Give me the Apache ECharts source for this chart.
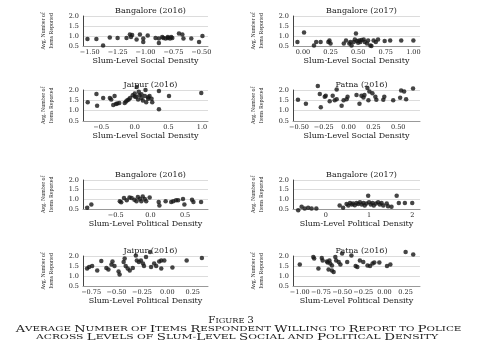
<!DOCTYPE html>
<html>
<head>
<meta charset="utf-8">
<script src="https://cdn.jsdelivr.net/npm/echarts@6/dist/echarts.min.js"></script>
<style>
  html, body { margin: 0; padding: 0; background: #fff; }
  #main { width: 499px; height: 353px; }
</style>
</head>
<body>
<div id="main"></div>
<script>
// values, [density, avg items reported]
var bangalore2016Social = [[-1.52,0.85],[-1.44,0.85],[-1.38,0.53],[-1.32,0.92],[-1.25,0.9],[-1.17,0.9],[-1.14,1.08],[-1.12,1.05],[-1.13,0.95],[-1.08,0.82],[-1.05,1.07],[-1.02,0.87],[-1.02,0.7],[-0.98,1.03],[-0.91,0.9],[-0.88,0.65],[-0.88,0.87],[-0.85,0.95],[-0.84,0.9],[-0.82,0.87],[-0.8,0.95],[-0.8,0.9],[-0.78,0.87],[-0.77,0.95],[-0.76,0.9],[-0.7,1.12],[-0.67,1.08],[-0.66,0.87],[-0.59,0.87],[-0.52,0.7],[-0.49,1.0]];
var bangalore2017Social = [[-0.05,0.7],[0.01,1.17],[0.1,0.53],[0.12,0.7],[0.16,0.7],[0.23,0.7],[0.24,0.78],[0.25,0.62],[0.37,0.62],[0.39,0.78],[0.42,0.62],[0.43,0.7],[0.44,0.53],[0.46,0.7],[0.48,1.12],[0.47,0.82],[0.49,0.75],[0.5,0.66],[0.51,0.78],[0.52,0.7],[0.53,0.8],[0.55,0.82],[0.56,0.7],[0.58,0.62],[0.59,0.78],[0.61,0.53],[0.62,0.5],[0.64,0.78],[0.66,0.7],[0.68,0.82],[0.74,0.75],[0.79,0.78],[0.89,0.78],[1.0,0.78]];
var jaipurSocial = [[-0.7,1.41],[-0.57,1.81],[-0.56,1.24],[-0.47,1.61],[-0.37,1.61],[-0.35,1.54],[-0.3,1.71],[-0.32,1.27],[-0.28,1.32],[-0.26,1.35],[-0.23,1.37],[-0.15,1.37],[-0.13,1.44],[-0.11,1.5],[-0.09,1.54],[-0.07,1.61],[-0.03,1.75],[0.0,1.83],[0.0,1.68],[0.02,1.66],[0.03,2.15],[0.05,1.54],[0.07,1.75],[0.1,1.61],[0.1,1.8],[0.06,1.92],[0.12,1.49],[0.15,1.71],[0.17,1.41],[0.2,1.58],[0.2,1.65],[0.22,1.71],[0.16,2.0],[0.25,1.58],[0.26,1.41],[0.36,1.95],[0.36,1.07],[0.51,1.71],[0.99,1.86]];
var patnaSocial = [[-0.51,1.53],[-0.43,1.33],[-0.31,2.19],[-0.29,1.81],[-0.28,1.16],[-0.24,1.67],[-0.23,1.72],[-0.19,1.45],[-0.16,1.72],[-0.14,1.5],[-0.12,1.55],[-0.12,2.02],[-0.07,1.24],[-0.05,1.5],[-0.02,1.55],[-0.01,1.67],[0.08,1.76],[0.11,1.33],[0.13,1.72],[0.15,1.64],[0.16,1.76],[0.19,2.1],[0.2,1.5],[0.21,1.93],[0.24,1.84],[0.27,1.67],[0.28,1.53],[0.35,1.53],[0.36,1.67],[0.45,1.5],[0.52,1.62],[0.53,1.98],[0.56,1.93],[0.58,1.55],[0.65,2.07]];
var bangalore2016Political = [[-0.91,0.56],[-0.85,0.73],[-0.44,0.9],[-0.42,0.85],[-0.38,1.07],[-0.34,0.95],[-0.3,1.1],[-0.27,1.07],[-0.23,0.98],[-0.2,0.9],[-0.18,1.12],[-0.15,1.02],[-0.13,0.9],[-0.11,1.15],[-0.08,1.02],[-0.06,0.9],[-0.01,1.1],[0.12,0.86],[0.13,0.68],[0.22,0.9],[0.3,0.86],[0.33,0.9],[0.37,0.95],[0.4,0.95],[0.47,1.02],[0.49,0.73],[0.6,0.98],[0.62,0.86],[0.73,0.86]];
var bangalore2017Political = [[-0.64,0.44],[-0.56,0.61],[-0.49,0.53],[-0.41,0.56],[-0.33,0.53],[-0.22,0.53],[0.32,0.68],[0.4,0.56],[0.48,0.76],[0.52,0.68],[0.56,0.81],[0.6,0.73],[0.63,0.78],[0.67,0.69],[0.71,0.81],[0.75,0.76],[0.79,0.85],[0.83,0.73],[0.87,0.81],[0.9,0.68],[0.94,0.78],[0.98,1.19],[1.0,0.85],[1.04,0.73],[1.08,0.81],[1.11,0.68],[1.16,0.78],[1.21,0.85],[1.25,0.73],[1.29,0.81],[1.33,0.68],[1.41,0.78],[1.44,0.64],[1.52,0.61],[1.64,1.19],[1.69,0.81],[1.83,0.81],[2.0,0.81]];
var jaipurPolitical = [[-0.79,1.37],[-0.77,1.45],[-0.74,1.5],[-0.69,1.28],[-0.65,1.75],[-0.6,1.4],[-0.58,1.33],[-0.55,1.57],[-0.54,1.73],[-0.52,1.5],[-0.48,1.23],[-0.47,1.08],[-0.43,1.7],[-0.42,1.87],[-0.41,1.5],[-0.39,1.37],[-0.37,1.28],[-0.34,1.4],[-0.31,2.03],[-0.3,1.78],[-0.28,1.7],[-0.26,1.78],[-0.24,1.62],[-0.23,1.5],[-0.21,1.95],[-0.17,2.2],[-0.16,1.45],[-0.13,1.62],[-0.11,1.5],[-0.08,1.73],[-0.06,1.78],[-0.03,1.78],[-0.06,1.37],[0.05,1.42],[0.19,1.78],[0.34,1.9]];
var patnaPolitical = [[-1.0,1.57],[-0.84,1.95],[-0.83,1.87],[-0.78,1.37],[-0.74,1.9],[-0.73,1.78],[-0.68,1.73],[-0.67,1.67],[-0.65,1.78],[-0.66,1.33],[-0.62,1.28],[-0.6,1.2],[-0.64,1.62],[-0.62,1.53],[-0.58,1.95],[-0.57,1.78],[-0.54,1.7],[-0.52,1.57],[-0.5,2.12],[-0.44,1.7],[-0.39,2.03],[-0.34,1.5],[-0.32,1.45],[-0.29,1.78],[-0.25,1.7],[-0.2,1.53],[-0.17,1.5],[-0.14,1.62],[-0.12,1.67],[-0.06,1.67],[0.03,1.5],[0.07,1.57],[0.25,2.2],[0.34,2.07]];

var panelTitles = ["Bangalore (2016)", "Bangalore (2017)", "Jaipur (2016)", "Patna (2016)",
                   "Bangalore (2016)", "Bangalore (2017)", "Jaipur (2016)", "Patna (2016)"];
var xNames = ["Slum-Level Social Density", "Slum-Level Social Density", "Slum-Level Social Density", "Slum-Level Social Density",
              "Slum-Level Political Density", "Slum-Level Political Density", "Slum-Level Political Density", "Slum-Level Political Density"];
var xTicks = [
  [-1.5, -1.25, -1.0, -0.75, -0.5],
  [0, 0.25, 0.5, 0.75, 1.0],
  [-0.5, 0, 0.5, 1.0],
  [-0.5, -0.25, 0, 0.25, 0.5],
  [-0.5, 0, 0.5],
  [0, 1, 2],
  [-0.75, -0.5, -0.25, 0, 0.25],
  [-1.0, -0.75, -0.5, -0.25, 0, 0.25]
];
var xDecimals = [2, 2, 1, 2, 1, 0, 2, 2];
var yTicks = [0.5, 1.0, 1.5, 2.0];
var captionLines = ["Figure 3",
  "Average Number of Items Respondent Willing to Report to Police",
  "across Levels of Slum-Level Social and Political Density"];

var allData = [bangalore2016Social, bangalore2017Social, jaipurSocial, patnaSocial,
               bangalore2016Political, bangalore2017Political, jaipurPolitical, patnaPolitical];

// layout: axis extents and grid boxes
var xMin = [-1.56, -0.09, -0.77, -0.56, -0.97, -0.76, -0.83, -1.08];
var xMax = [-0.44, 1.06, 1.09, 0.72, 0.83, 2.18, 0.40, 0.42];
var colLeft = [83, 293], colWidth = [125, 127];
var rowTop = [16, 90, 180, 256], rowHeight = [30, 31, 29, 30];

var serif = "DejaVu Serif";
var ink = "#222";

function fmtTick(d) {
  return function (v) { return v.toFixed(d).replace("-", "\u2212"); };
}

// small caps as rich text: capitals and digits big, the rest small upper case
function smallCaps(s) {
  var out = "", cur = null, buf = "";
  for (var i = 0; i < s.length; i++) {
    var ch = s[i];
    var big = (ch !== ch.toLowerCase()) || /[0-9]/.test(ch);
    var t = big ? "a" : "b";
    if (t !== cur && buf) { out += "{" + cur + "|" + buf + "}"; buf = ""; }
    cur = t;
    buf += ch.toUpperCase();
  }
  if (buf) out += "{" + cur + "|" + buf + "}";
  return out;
}

var grids = [], xAxes = [], yAxes = [], series = [], titles = [];
for (var i = 0; i < 8; i++) {
  var c = i % 2, r = Math.floor(i / 2);
  grids.push({ left: colLeft[c], top: rowTop[r], width: colWidth[c], height: rowHeight[r] });
  titles.push({
    text: panelTitles[i],
    left: colLeft[c] + colWidth[c] / 2,
    top: rowTop[r] - 14.5,
    textAlign: "center",
    textStyle: { fontFamily: serif, fontSize: 8, fontWeight: "normal", color: ink }
  });
  xAxes.push({
    gridIndex: i, type: "value", min: xMin[i], max: xMax[i],
    axisLine: { show: true, onZero: false, lineStyle: { color: "#999", width: 1 } },
    axisTick: { show: false },
    splitLine: { show: false },
    axisLabel: { customValues: xTicks[i], formatter: fmtTick(xDecimals[i]),
      fontFamily: serif, fontSize: 6.5, color: ink, margin: 3 },
    name: xNames[i], nameLocation: "middle", nameGap: 11,
    nameTextStyle: { fontFamily: serif, fontSize: 8, color: ink }
  });
  yAxes.push({
    gridIndex: i, type: "value", min: 0.5, max: 2.0, interval: 0.5,
    axisLine: { show: true, onZero: false, lineStyle: { color: "#444", width: 1 } },
    axisTick: { show: false },
    splitLine: { show: true, lineStyle: { color: "#dcdcdc", width: 1 } },
    axisLabel: { customValues: yTicks, formatter: fmtTick(1), fontFamily: serif, fontSize: 6.5, color: ink, margin: 4 },
    name: "Avg. Number of\nItems Reported", nameLocation: "middle", nameRotate: 90, nameGap: 28,
    nameTextStyle: { fontFamily: "Liberation Serif", fontSize: 5.8, lineHeight: 8, color: ink }
  });
  series.push({
    type: "scatter", xAxisIndex: i, yAxisIndex: i, data: allData[i],
    symbolSize: 4.5, clip: false, silent: true,
    itemStyle: { color: "#161616" }
  });
}

var capRich = {
  a: { fontFamily: serif, fontSize: 8.5, fill: ink },
  b: { fontFamily: serif, fontSize: 6.8, fill: ink }
};
var capX = [231, 238.5, 237];
var capY = [321, 329.5, 337.5];
var capScale = [1.22, 1.52, 1.58];
var graphics = captionLines.map(function (t, k) {
  return {
    type: "text", x: capX[k], y: capY[k], scaleX: capScale[k], silent: true,
    style: { text: smallCaps(t), rich: capRich, align: "center", verticalAlign: "middle", fill: ink }
  };
});

var chart = echarts.init(document.getElementById("main"), null, { renderer: "canvas" });
chart.setOption({
  animation: false,
  backgroundColor: "#fff",
  title: titles,
  grid: grids,
  xAxis: xAxes,
  yAxis: yAxes,
  series: series,
  graphic: graphics
});
</script>
</body>
</html>
